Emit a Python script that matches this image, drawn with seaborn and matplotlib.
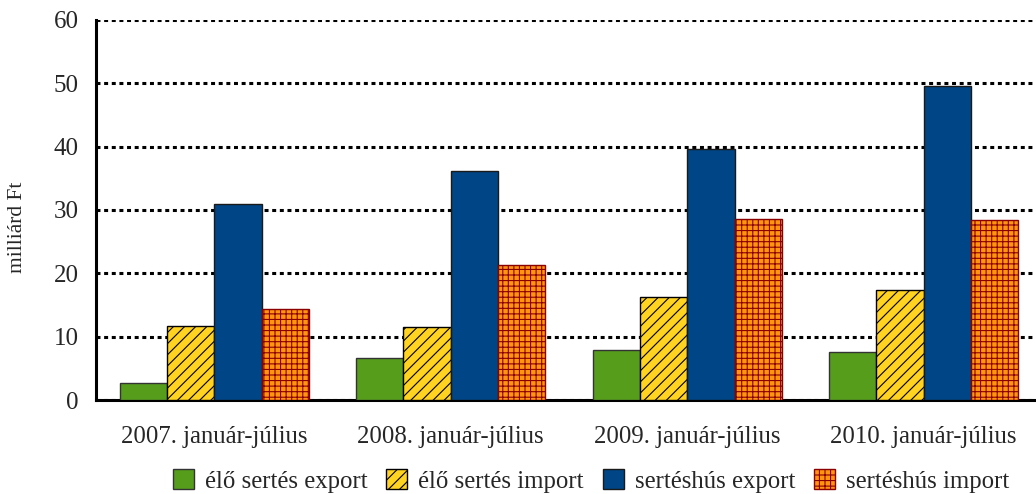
import matplotlib
matplotlib.use("Agg")
import matplotlib.pyplot as plt
import seaborn as sns
import pandas as pd

periods = ["2007. január-július", "2008. január-július",
           "2009. január-július", "2010. január-július"]
series = ["élő sertés export", "élő sertés import",
          "sertéshús export", "sertéshús import"]
elo_export = [2.7, 6.6, 7.9, 7.6]
elo_import = [11.7, 11.6, 16.3, 17.4]
hus_export = [31.0, 36.2, 39.7, 49.5]
hus_import = [14.3, 21.3, 28.5, 28.4]
yticks = [0, 10, 20, 30, 40, 50, 60]

colors = ["#579D1C", "#FFD320", "#004586", "#FF950E"]
edges = ["#333333", "#000000", "#1a1a1a", "#8B0000"]
hatches = ["", "///", "", "+++"]

df = pd.DataFrame({
    "period": periods * 4,
    "series": [s for s in series for _ in periods],
    "value": elo_export + elo_import + hus_export + hus_import,
})

sns.set_style("white")
plt.rcParams["font.family"] = ["Liberation Serif", "DejaVu Serif"]
plt.rcParams["hatch.linewidth"] = 0.8

fig = plt.figure(figsize=(10.36, 4.94), dpi=100)
ax = fig.add_axes([96 / 1036, 1 - 400 / 494, (1042 - 96) / 1036, 380 / 494])

sns.barplot(data=df, x="period", y="value", hue="series", hue_order=series,
            order=periods, palette=colors, saturation=1, width=0.8,
            legend=False, ax=ax, zorder=3)

for cont, ec, h in zip(ax.containers, edges, hatches):
    for p in cont:
        p.set_edgecolor(ec)
        p.set_linewidth(1.0)
        p.set_hatch(h)

ax.set_ylim(0, 60)
ax.set_xlim(-0.5, 3.5)
ax.set_yticks(yticks)
ax.set_yticklabels([str(t) for t in yticks], fontsize=18)
ax.set_xticks([-0.5, 0.5, 1.5, 2.5, 3.5])
ax.set_xticklabels([])
ax.set_xticks(range(4), minor=True)
ax.set_xticklabels(periods, minor=True, fontsize=17.8)
ax.tick_params(axis="x", which="minor", length=0, pad=19)
ax.tick_params(axis="x", which="major", length=8.5, width=2.2, direction="out", color="black")
ax.tick_params(axis="y", length=8.5, width=2.2, direction="out", color="black", pad=4)

ax.grid(axis="y", color="black", linewidth=2.2, linestyle=(0, (1.3, 1.2)), zorder=1)
ax.set_axisbelow(True)

for side in ["top", "right"]:
    ax.spines[side].set_visible(False)
for side in ["left", "bottom"]:
    ax.spines[side].set_color("black")
    ax.spines[side].set_linewidth(2.2)

ax.set_xlabel("")
ax.set_ylabel("milliárd Ft", fontsize=15.5, va="center")
ax.yaxis.set_label_coords(-0.083, 0.455)

handles = [cont[0] for cont in ax.containers]
fig.legend(handles, series, loc="center", bbox_to_anchor=(591 / 1036, 13 / 494),
           ncol=4, frameon=False, fontsize=17.8, handlelength=0.85, handleheight=0.85,
           handletextpad=0.45, columnspacing=0.75)

fig.savefig("out.png", dpi=100)
